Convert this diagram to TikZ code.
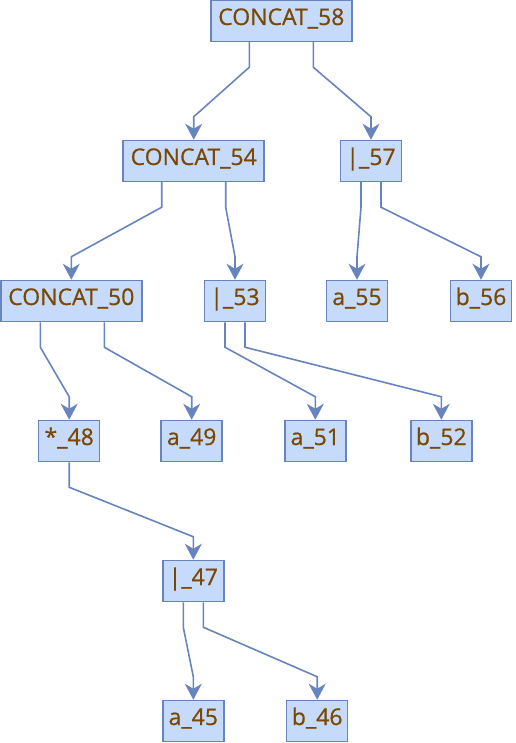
\documentclass[tikz,border=0pt]{standalone}
\usepackage{fontspec}
\setmainfont{Open Sans}
\newfontfamily\lblfont[FakeBold=0.6]{Open Sans}
\usetikzlibrary{arrows.meta,calc}
\definecolor{boxfill}{RGB}{198,218,252}
\definecolor{boxline}{RGB}{104,132,190}
\definecolor{txt}{RGB}{122,72,0}
\begin{document}
\begin{tikzpicture}[x=1pt,y=-1pt,
  vbox/.style={draw=boxline,fill=boxfill,line width=1.5pt,minimum height=41pt,inner sep=0pt,
    text height=14pt,text depth=6pt,
    text=txt,font=\lblfont\fontsize{23pt}{26pt}\selectfont},
  small/.style={vbox,minimum width=61pt},
  big/.style={vbox,minimum width=141pt},
  edge/.style={draw=boxline,line width=1.6pt,-{Stealth[length=16pt,width=17pt,inset=5pt]}}]
\useasboundingbox (0,0) rectangle (515,743);
\node[big] (c58) at (281.3,21) {CONCAT\_58};
\node[big] (c54) at (193.7,161) {CONCAT\_54};
\node[small] (p57) at (371,161) {|\_57};
\node[big] (c50) at (71.3,301) {CONCAT\_50};
\node[small] (p53) at (235,301) {|\_53};
\node[small] (a55) at (357,301) {a\_55};
\node[small] (b56) at (481,301) {b\_56};
\node[small] (s48) at (69.2,441) {*\_48};
\node[small] (a49) at (191.7,441) {a\_49};
\node[small] (a51) at (315.3,441) {a\_51};
\node[small] (b52) at (441.3,441) {b\_52};
\node[small] (p47) at (193.3,581) {|\_47};
\node[small] (a45) at (193.3,721) {a\_45};
\node[small] (b46) at (317.2,721) {b\_46};
% edges
\draw[edge] ([xshift=-32pt]c58.south) -- ++(0pt,-25pt) -- ([yshift=23pt]c54.north) -- (c54.north);
\draw[edge] ([xshift=32pt]c58.south) -- ++(0pt,-25pt) -- ([yshift=23pt]p57.north) -- (p57.north);
\draw[edge] ([xshift=-32pt]c54.south) -- ++(0pt,-25pt) -- ([yshift=23pt]c50.north) -- (c50.north);
\draw[edge] ([xshift=32pt]c54.south) -- ++(0pt,-25pt) -- ([yshift=23pt]p53.north) -- (p53.north);
\draw[edge] ([xshift=-10pt]p57.south) -- ++(0pt,-25pt) -- ([yshift=23pt]a55.north) -- (a55.north);
\draw[edge] ([xshift=10pt]p57.south) -- ++(0pt,-25pt) -- ([yshift=23pt]b56.north) -- (b56.north);
\draw[edge] ([xshift=-31pt]c50.south) -- ++(0pt,-25pt) -- ([yshift=23pt]s48.north) -- (s48.north);
\draw[edge] ([xshift=33pt]c50.south) -- ++(0pt,-25pt) -- ([yshift=23pt]a49.north) -- (a49.north);
\draw[edge] ([xshift=-10pt]p53.south) -- ++(0pt,-25pt) -- ([yshift=23pt]a51.north) -- (a51.north);
\draw[edge] ([xshift=10pt]p53.south) -- ++(0pt,-25pt) -- ([yshift=23pt]b52.north) -- (b52.north);
\draw[edge] (s48.south) -- ++(0pt,-25pt) -- ([yshift=23pt]p47.north) -- (p47.north);
\draw[edge] ([xshift=-10pt]p47.south) -- ++(0pt,-25pt) -- ([yshift=23pt]a45.north) -- (a45.north);
\draw[edge] ([xshift=10pt]p47.south) -- ++(0pt,-25pt) -- ([yshift=23pt]b46.north) -- (b46.north);
\end{tikzpicture}
\end{document}
